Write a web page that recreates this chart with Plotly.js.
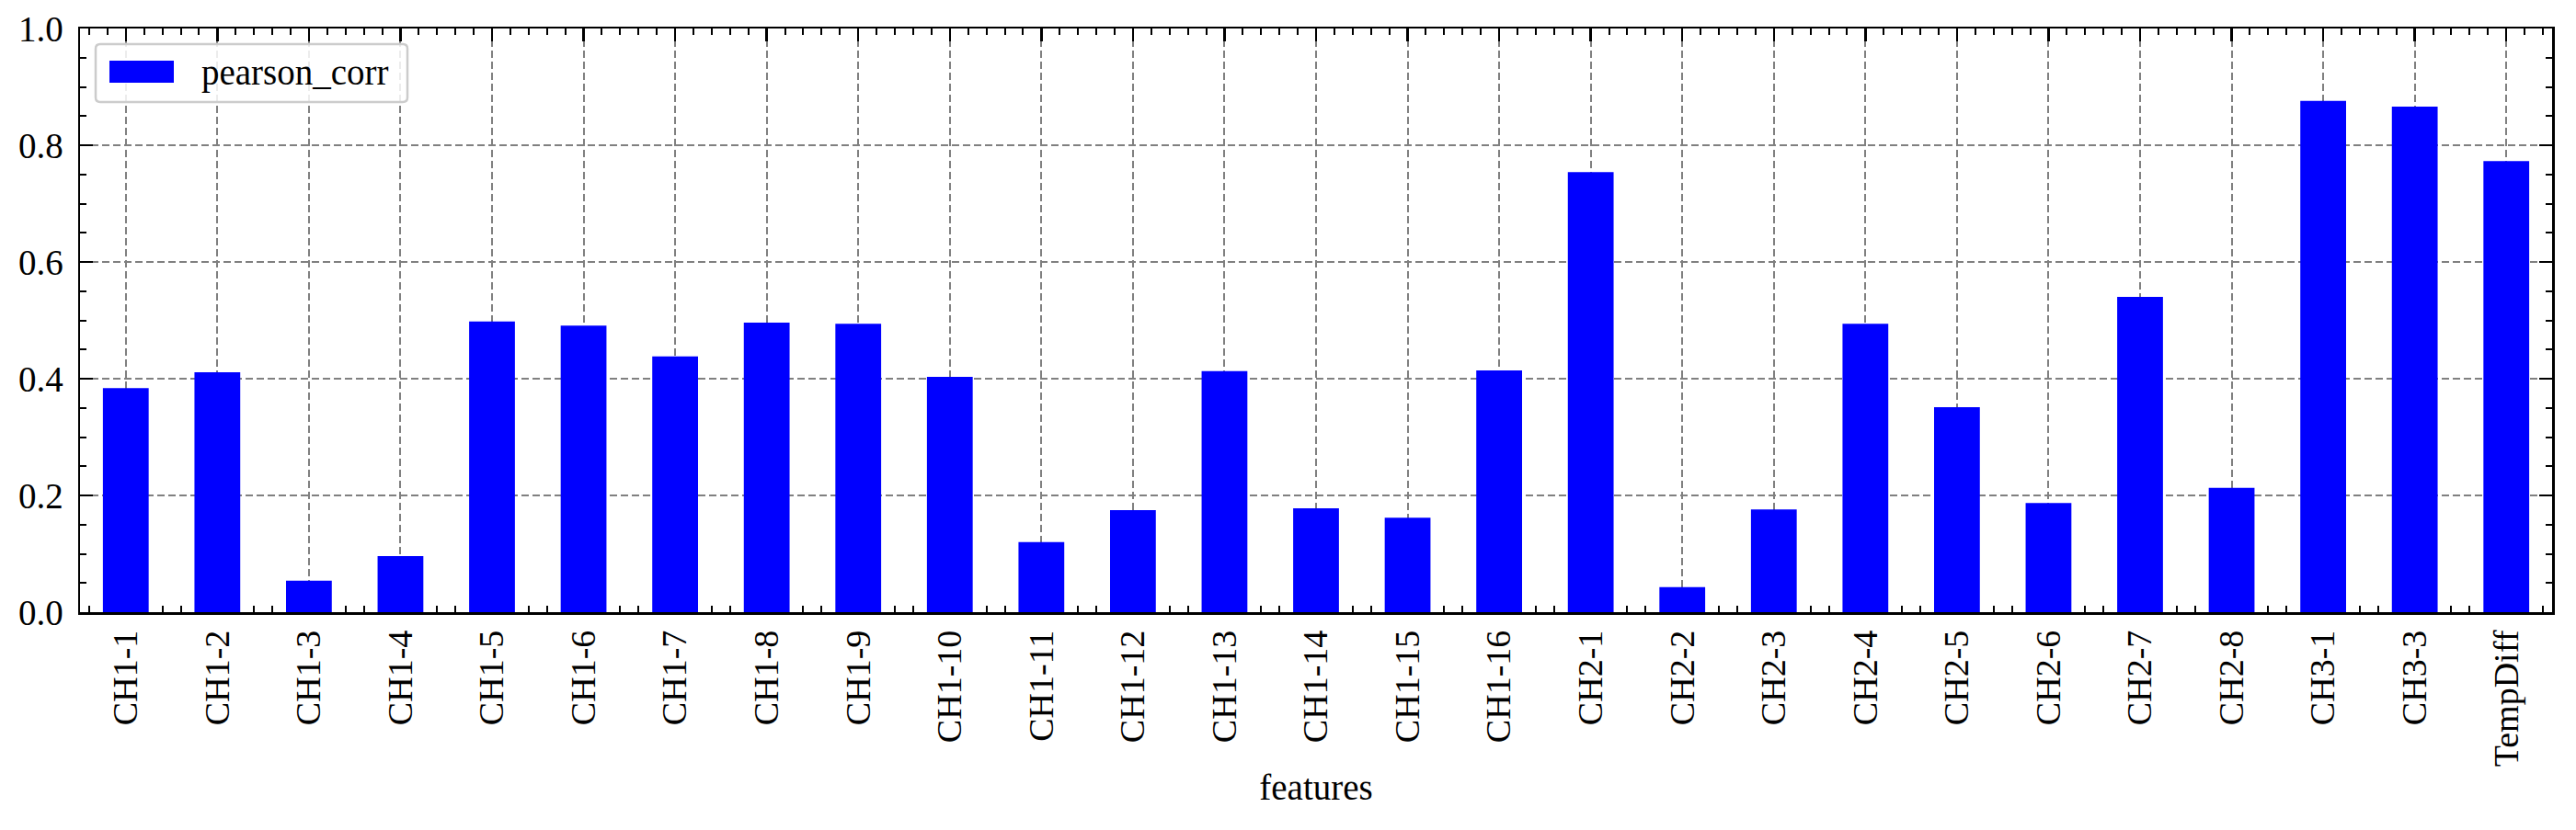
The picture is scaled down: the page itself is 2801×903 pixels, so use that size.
<!DOCTYPE html>
<html>
<head>
<meta charset="utf-8">
<script src="https://cdn.plot.ly/plotly-3.0.1.min.js"></script>
<style>
  html, body { margin: 0; padding: 0; background: #ffffff; }
  #chart { width: 2801px; height: 903px; }
</style>
</head>
<body>
<div id="chart"></div>
<script>
// ---- data ----
const categories = ["CH1-1","CH1-2","CH1-3","CH1-4","CH1-5","CH1-6","CH1-7","CH1-8","CH1-9","CH1-10",
  "CH1-11","CH1-12","CH1-13","CH1-14","CH1-15","CH1-16","CH2-1","CH2-2","CH2-3","CH2-4",
  "CH2-5","CH2-6","CH2-7","CH2-8","CH3-1","CH3-3","TempDiff"];
const pearsonCorr = [0.384, 0.411, 0.054, 0.096, 0.498, 0.491, 0.438, 0.496, 0.494, 0.403,
  0.120, 0.175, 0.413, 0.178, 0.162, 0.414, 0.754, 0.043, 0.176, 0.494,
  0.351, 0.187, 0.540, 0.213, 0.876, 0.866, 0.773];
const seriesName = "pearson_corr";
const yTickVals = [0, 0.2, 0.4, 0.6, 0.8, 1.0];
const xTitle = "features";

// ---- layout geometry ----
const W = 2801, H = 903;
const M = {l: 87, r: 26, t: 31, b: 237};
const PW = W - M.l - M.r, PH = H - M.t - M.b;
const px = x => (x - M.l) / PW;
const py = y => (H - M.b - y) / PH;
const FONT = "Liberation Serif, Times New Roman, serif";

const positions = categories.map((c, i) => i);

function roundRect(x0, y0, x1, y1, r) {
  const rx = r / PW, ry = r / PH;
  const X0 = px(x0), X1 = px(x1), Y0 = py(y0), Y1 = py(y1); // Y0 top (larger)
  return `M${X0 + rx},${Y0} L${X1 - rx},${Y0} Q${X1},${Y0} ${X1},${Y0 - ry} ` +
         `L${X1},${Y1 + ry} Q${X1},${Y1} ${X1 - rx},${Y1} L${X0 + rx},${Y1} ` +
         `Q${X0},${Y1} ${X0},${Y1 + ry} L${X0},${Y0 - ry} Q${X0},${Y0} ${X0 + rx},${Y0} Z`;
}

const trace = {
  type: "bar",
  x: positions,
  y: pearsonCorr,
  name: seriesName,
  width: 0.5,
  marker: {color: "#0000ff", line: {width: 0}},
  hoverinfo: "x+y",
  showlegend: false
};

const gridStyle = {gridcolor: "#808080", gridwidth: 2, griddash: "8px,4px"};

const layout = {
  width: W, height: H,
  margin: M,
  paper_bgcolor: "#ffffff",
  plot_bgcolor: "#ffffff",
  font: {family: FONT, size: 39, color: "#000000"},
  bargap: 0.5,
  showlegend: false,
  xaxis: Object.assign({
    type: "linear",
    range: [-0.5, categories.length - 0.5],
    tickmode: "array",
    tickvals: positions,
    ticktext: categories,
    tickangle: -90,
    ticks: "inside",
    ticklen: 14,
    tickwidth: 2.5,
    tickcolor: "#000000",
    showline: true,
    linecolor: "#000000",
    linewidth: 2.5,
    mirror: "ticks",
    showgrid: true,
    zeroline: false,
    layer: "below traces",
    ticklabelstandoff: 2,
    tickfont: {family: FONT, size: 38},
    minor: {dtick: 0.2, tick0: 0, ticks: "inside", ticklen: 7, tickwidth: 2, tickcolor: "#000000", showgrid: false},
    title: {text: xTitle, font: {family: FONT, size: 39}, standoff: 10},
    automargin: false
  }, gridStyle),
  yaxis: Object.assign({
    range: [0, 1],
    tickmode: "array",
    tickvals: yTickVals,
    tickformat: ".1f",
    ticks: "inside",
    ticklen: 14,
    tickwidth: 2.5,
    tickcolor: "#000000",
    showline: true,
    linecolor: "#000000",
    linewidth: 2.5,
    mirror: "ticks",
    showgrid: true,
    zeroline: false,
    ticklabelstandoff: 8,
    tickfont: {family: FONT, size: 39},
    minor: {dtick: 0.05, tick0: 0, ticks: "inside", ticklen: 7, tickwidth: 2, tickcolor: "#000000", showgrid: false},
    automargin: false
  }, gridStyle),
  shapes: [
    {type: "path", xref: "paper", yref: "paper", path: roundRect(104, 48, 443, 111, 5),
     fillcolor: "rgba(255,255,255,0.85)", line: {color: "#cccccc", width: 2.5}, layer: "above"},
    {type: "rect", xref: "paper", yref: "paper", x0: px(119), x1: px(189), y0: py(90), y1: py(66),
     fillcolor: "#0000ff", line: {width: 0}, layer: "above"}
  ],
  annotations: [
    {xref: "paper", yref: "paper", x: px(217), y: py(79), xanchor: "left", yanchor: "middle",
     text: seriesName, showarrow: false, font: {family: FONT, size: 39, color: "#000000"}}
  ]
};

Plotly.newPlot("chart", [trace], layout, {displayModeBar: false, staticPlot: true});
</script>
</body>
</html>
